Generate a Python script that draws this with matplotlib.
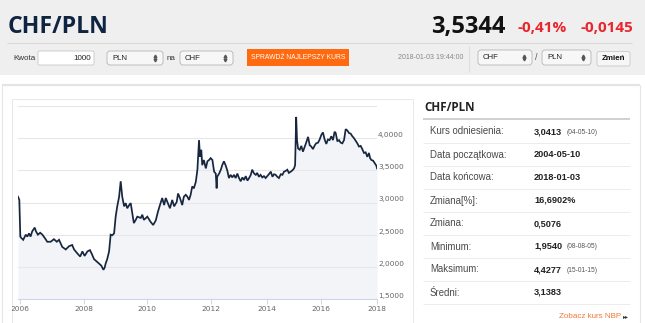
import matplotlib
matplotlib.use("Agg")
import matplotlib.pyplot as plt
import numpy as np
from matplotlib.patches import FancyBboxPatch, Rectangle
from matplotlib.transforms import Bbox, TransformedBbox

W, H = 645, 323

# CHF/PLN closes (fractional year, rate)
dates = [
    2005.94, 2005.98, 2006.01, 2006.04, 2006.10, 2006.18, 2006.23, 2006.28, 2006.33, 2006.38,
    2006.46, 2006.50, 2006.56, 2006.63, 2006.70, 2006.80, 2006.85, 2006.96, 2007.06, 2007.15,
    2007.22, 2007.32, 2007.43, 2007.53, 2007.63, 2007.69, 2007.79, 2007.88, 2007.95, 2008.02,
    2008.11, 2008.19, 2008.25, 2008.32, 2008.41, 2008.48, 2008.55, 2008.62, 2008.66, 2008.69,
    2008.74, 2008.80, 2008.85, 2008.90, 2008.96, 2009.01, 2009.06, 2009.12, 2009.17, 2009.22,
    2009.28, 2009.33, 2009.38, 2009.44, 2009.49, 2009.54, 2009.59, 2009.65, 2009.70, 2009.81,
    2009.86, 2009.91, 2010.02, 2010.12, 2010.20, 2010.28, 2010.35, 2010.41, 2010.48, 2010.54,
    2010.59, 2010.64, 2010.72, 2010.79, 2010.85, 2010.93, 2010.97, 2011.03, 2011.10, 2011.15,
    2011.21, 2011.26, 2011.31, 2011.36, 2011.41, 2011.46, 2011.52, 2011.57, 2011.62, 2011.65,
    2011.69, 2011.72, 2011.77, 2011.83, 2011.88, 2011.93, 2011.98, 2012.04, 2012.10, 2012.16,
    2012.19, 2012.21, 2012.28, 2012.34, 2012.39, 2012.45, 2012.51, 2012.57, 2012.63, 2012.69,
    2012.75, 2012.81, 2012.87, 2012.93, 2012.99, 2013.05, 2013.11, 2013.17, 2013.23, 2013.29,
    2013.35, 2013.41, 2013.46, 2013.53, 2013.59, 2013.64, 2013.70, 2013.76, 2013.82, 2013.88,
    2013.94, 2014.00, 2014.06, 2014.13, 2014.19, 2014.25, 2014.31, 2014.37, 2014.43, 2014.50,
    2014.56, 2014.62, 2014.68, 2014.74, 2014.80, 2014.87, 2014.93, 2014.99, 2015.03, 2015.05,
    2015.07, 2015.10, 2015.14, 2015.20, 2015.26, 2015.32, 2015.39, 2015.44, 2015.51, 2015.57,
    2015.63, 2015.69, 2015.76, 2015.81, 2015.88, 2015.94, 2016.00, 2016.06, 2016.12, 2016.18,
    2016.24, 2016.30, 2016.36, 2016.42, 2016.48, 2016.52, 2016.58, 2016.64, 2016.70, 2016.76,
    2016.82, 2016.88, 2016.94, 2017.00, 2017.06, 2017.12, 2017.18, 2017.24, 2017.30, 2017.36,
    2017.42, 2017.48, 2017.54, 2017.60, 2017.66, 2017.72, 2017.76, 2017.81, 2017.87, 2017.93,
    2017.99, 2018.01,
]
rates = [
    3.09, 3.04, 2.47, 2.45, 2.42, 2.50, 2.47, 2.52, 2.47, 2.55,
    2.61, 2.55, 2.50, 2.53, 2.50, 2.43, 2.39, 2.39, 2.43, 2.39,
    2.42, 2.31, 2.27, 2.32, 2.34, 2.27, 2.21, 2.16, 2.24, 2.17,
    2.24, 2.26, 2.20, 2.12, 2.08, 2.05, 2.02, 1.954, 1.99, 2.05,
    2.12, 2.24, 2.50, 2.49, 2.52, 2.78, 2.94, 3.09, 3.33, 3.09,
    2.94, 2.99, 2.91, 2.96, 2.99, 2.83, 2.68, 2.73, 2.78, 2.76,
    2.81, 2.73, 2.78, 2.70, 2.65, 2.72, 2.86, 2.96, 3.07, 2.96,
    3.07, 3.01, 2.91, 3.04, 2.94, 3.01, 3.14, 3.07, 2.96, 3.09,
    3.12, 3.09, 3.04, 3.12, 3.25, 3.22, 3.32, 3.51, 3.97, 3.71,
    3.82, 3.58, 3.66, 3.53, 3.64, 3.66, 3.69, 3.66, 3.48, 3.45,
    3.22, 3.40, 3.45, 3.51, 3.58, 3.64, 3.58, 3.50, 3.38, 3.43,
    3.39, 3.43, 3.38, 3.45, 3.38, 3.33, 3.39, 3.35, 3.41, 3.34,
    3.38, 3.43, 3.51, 3.45, 3.43, 3.46, 3.40, 3.43, 3.39, 3.41,
    3.38, 3.41, 3.44, 3.48, 3.40, 3.44, 3.43, 3.40, 3.38, 3.44,
    3.43, 3.48, 3.49, 3.51, 3.46, 3.48, 3.50, 3.53, 3.58, 3.97,
    4.33, 3.97, 3.84, 3.82, 3.88, 3.79, 3.87, 3.93, 4.02, 3.89,
    3.87, 3.83, 3.89, 3.92, 3.93, 3.98, 4.05, 4.09, 3.98, 3.91,
    3.98, 3.97, 4.03, 3.97, 4.10, 4.08, 3.95, 3.97, 3.93, 3.92,
    3.97, 4.14, 4.12, 4.08, 4.07, 4.03, 4.00, 3.96, 3.92, 3.87,
    3.88, 3.83, 3.77, 3.78, 3.71, 3.77, 3.69, 3.66, 3.65, 3.61,
    3.57, 3.53,
]

year_ticks = [2006, 2008, 2010, 2012, 2014, 2016, 2018]
rate_ticks = [1.5, 2.0, 2.5, 3.0, 3.5, 4.0, 4.5]

# summary table on the right
stat_labels = ["Kurs odniesienia:", "Data początkowa:", "Data końcowa:", "Zmiana[%]:",
               "Zmiana:", "Minimum:", "Maksimum:", "Średni:"]
stat_values = ["3,0413", "2004-05-10", "2018-01-03", "16,6902%",
               "0,5076", "1,9540", "4,4277", "3,1383"]
stat_notes = ["(04-05-10)", "", "", "", "", "(08-08-05)", "(15-01-15)", ""]

# time axis is ordinal (points evenly spaced), so years are not evenly spaced
axis_years = [2005.94, 2006, 2008, 2010, 2012, 2014, 2016, 2018.01]
axis_pos = [0.0, 2.0, 66.0, 128.7, 193.3, 249.3, 303.3, 359.0]


def to_pos(yr):
    return np.interp(yr, axis_years, axis_pos)


def to_year(p):
    return np.interp(p, axis_pos, axis_years)


fig = plt.figure(figsize=(W / 100, H / 100), dpi=100, facecolor="white")

page = fig.add_axes([0, 0, 1, 1], zorder=0)
page.set_xlim(0, W)
page.set_ylim(H, 0)
page.axis("off")


def box(x0, y0, x1, y1, fc, ec="none", lw=0.0, r=0.0, z=1):
    if r:
        p = FancyBboxPatch((x0, y0), x1 - x0, y1 - y0,
                           boxstyle=f"round,pad=0,rounding_size={r}",
                           fc=fc, ec=ec, lw=lw, zorder=z)
    else:
        p = Rectangle((x0, y0), x1 - x0, y1 - y0, fc=fc, ec=ec, lw=lw, zorder=z)
    page.add_patch(p)


def line(xs, ys, color, lw=0.7, z=2):
    page.plot(xs, ys, color=color, lw=lw, zorder=z, solid_capstyle="butt")


def txt(x, y, s, size, color="#333333", weight="normal", ha="left", va="center",
        family="Liberation Sans"):
    page.text(x, y, s, fontsize=size, color=color, fontweight=weight, ha=ha, va=va,
              family=family, zorder=5)


def select(x0, x1, y0, y1, value):
    box(x0, y0, x1, y1, "#f7f7f7", "#b5b5b5", 0.6, r=3)
    yc = (y0 + y1) / 2
    txt(x0 + 5, yc, value, 5.6, "#222222")
    page.plot([x1 - 8], [yc - 1.8], marker="^", ms=2.0, color="#555555", zorder=5)
    page.plot([x1 - 8], [yc + 1.8], marker="v", ms=2.0, color="#555555", zorder=5)


# header strip
box(0, 0, W, 75, "#efefef")
txt(7.5, 33, "CHF/PLN", 16.6, "#0f2441", "bold", va="baseline", family="Open Sans")
txt(505, 33.3, "3,5344", 17, "#111111", "bold", ha="right", va="baseline", family="Open Sans")
txt(566.7, 31.7, "-0,41%", 11, "#e8262d", "bold", ha="right", va="baseline", family="Open Sans")
txt(633, 31.7, "-0,0145", 11, "#e8262d", "bold", ha="right", va="baseline", family="Open Sans")
line([7, 632], [43, 43], "#dadada", 0.8)

# converter row
txt(13, 58, "Kwota", 5.8, "#333333")
box(38, 51, 94, 65, "white", "#c8c8c8", 0.6, r=1.5)
txt(91.5, 58, "1000", 5.8, "#222222", ha="right")
select(107, 163, 51, 65, "PLN")
txt(167, 58, "na", 5.8, "#333333")
select(180, 233, 51, 65, "CHF")
box(247, 49, 349, 66, "#ff6a10")
txt(298, 57.5, "SPRAWDŹ NAJLEPSZY KURS", 4.9, "white", ha="center")
txt(463, 57.5, "2018-01-03 19:44:00", 5.0, "#888888", ha="right")
line([469, 469], [46, 72], "#dcdcdc", 0.7)
select(478, 532, 50, 65, "CHF")
txt(536.5, 58, "/", 6.5, "#555555", ha="center")
select(542, 591, 50, 65, "PLN")
box(597, 51.5, 630, 66, "#f6f6f6", "#c8c8c8", 0.6, r=2)
txt(613.5, 58.8, "Zmień", 5.8, "#111111", "bold", ha="center")

# content container and panels
box(2, 85, 640, H + 5, "white", "#e6e6e6", 0.8)
line([2, 640], [85, 85], "#e4e4e4", 1.6)
box(12, 99, 413, H + 5, "white", "#e8e8e8", 0.7)

# chart
ax = fig.add_axes([18 / W, 1 - 299 / H, 359 / W, 193 / H], zorder=2)
ax.set_facecolor("none")
ax.set_xscale("function", functions=(to_pos, to_year))
ax.fill_between(dates, rates, rate_ticks[0], color="#e6eaf1", alpha=0.5, lw=0, zorder=1)
ax.plot(dates, rates, color="#17263f", lw=1.25, zorder=2, solid_joinstyle="miter")
ax.set_xlim(axis_years[0], axis_years[-1])
ax.set_ylim(rate_ticks[0], rate_ticks[-1])

ax.set_xticks(year_ticks, [str(y) for y in year_ticks])
ax.yaxis.tick_right()
ax.set_yticks(rate_ticks,
              [f"{v:.4f}".replace(".", ",") if v < rate_ticks[-1] else "" for v in rate_ticks],
              va="bottom")
ax.tick_params(axis="x", length=3.8, width=0.7, color="#ccd6eb", pad=1.0,
               labelsize=5.3, labelcolor="#666666")
ax.tick_params(axis="y", length=0, pad=0.8, labelsize=5.3, labelcolor="#666666")
ax.grid(axis="y", color="#e6e6e6", lw=0.75)
ax.set_axisbelow(True)
for side in ("top", "left", "right"):
    ax.spines[side].set_visible(False)
ax.spines["bottom"].set_color("#ccd6eb")
ax.spines["bottom"].set_linewidth(0.75)

clip = TransformedBbox(Bbox.from_extents(12 / W, 0, 413 / W, 1), fig.transFigure)
for tick in ax.xaxis.get_major_ticks():
    tick.label1.set_clip_box(clip)
    tick.label1.set_clip_on(True)

# summary panel
txt(424, 111, "CHF/PLN", 8.4, "#222222", "bold", va="baseline", family="Open Sans")
line([423, 630], [119.3, 119.3], "#c4c4c4", 1.1)
for i, (lab, val, note) in enumerate(zip(stat_labels, stat_values, stat_notes)):
    yc = 131.5 + 23 * i
    txt(430, yc, lab, 6.9, "#4a4a4a")
    txt(534, yc, val, 6.6, "#222222", "bold")
    if note:
        txt(567, yc + 0.5, note, 4.8, "#555555")
    line([423, 630], [yc + 11.5, yc + 11.5], "#ececec", 0.7)
txt(621, 317, "Zobacz kurs NBP", 5.8, "#f37736", ha="right")
txt(623, 317, "▸▸", 4.2, "#333333", family="DejaVu Sans")

fig.savefig("out.png", dpi=100)
